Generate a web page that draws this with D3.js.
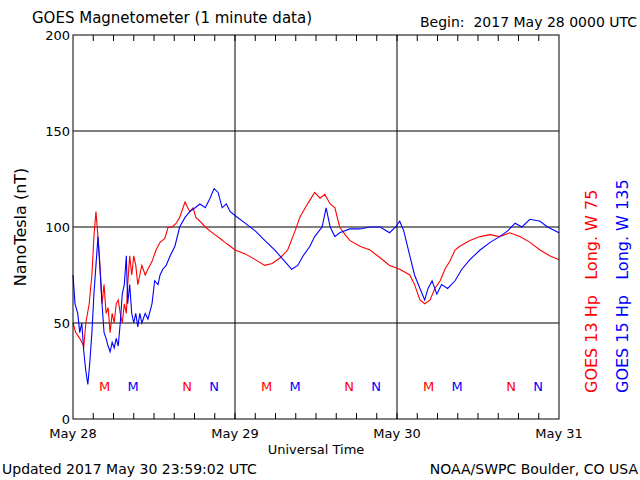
<!DOCTYPE html><html><head><meta charset="utf-8"><script src="https://cdn.jsdelivr.net/npm/d3@7"></script>
<style>body{margin:0;background:#fff}text{font-family:"DejaVu Sans",sans-serif;white-space:pre}</style></head><body><svg id="c" width="640" height="480"></svg><script>
const dayLabels=["May 28","May 29","May 30","May 31"];
const yTicks=[0,50,100,150,200];
const redHours=[0,0.4,1.0,1.6,1.9,2.4,2.8,3.1,3.4,3.7,4.0,4.3,4.6,4.9,5.2,5.5,5.8,6.1,6.4,6.7,7.0,7.3,7.6,7.9,8.1,8.4,8.7,9.0,9.3,9.6,9.9,10.2,10.7,11.1,11.7,12.3,12.9,13.6,14.1,14.7,15.3,15.8,16.3,16.6,17.0,17.3,17.8,18.2,18.8,19.6,20.3,21.0,21.8,22.5,23.3,24.0,25.5,27.0,28.4,29.5,30.7,31.8,32.9,33.6,34.4,35.1,35.8,36.6,37.3,38.1,38.8,39.5,40.3,41.0,42.5,44.0,45.5,46.9,48.4,49.9,50.6,51.4,52.1,52.9,53.6,54.4,55.1,55.8,56.6,57.3,58.8,60.3,61.8,63.2,64.7,66.2,67.7,69.2,70.6,72];
const redValues=[50,45,42,38,50,60,75,95,108,95,80,60,70,55,58,45,55,50,60,62,55,50,60,55,70,85,75,85,80,70,75,80,75,78,82,88,92,94,100,100,102,105,110,113,110,108,110,105,103,100,98,96,94,92,90,88,86,83,80,81,84,88,98,105,110,114,118,115,117,112,110,100,96,93,90,88,84,80,78,75,70,62,60,62,68,72,78,82,88,90,93,95,96,95,97,95,92,88,85,83];
const blueHours=[0,0.3,0.7,1.0,1.3,1.6,1.9,2.2,2.5,2.8,3.1,3.4,3.7,4.0,4.3,4.6,4.9,5.2,5.5,5.8,6.1,6.4,6.7,7.0,7.3,7.6,7.9,8.1,8.4,8.7,9.0,9.3,9.6,9.9,10.2,10.7,11.1,11.7,12.1,12.6,12.9,13.3,13.8,14.4,15.1,15.8,16.6,17.3,18.1,18.8,19.6,20.3,20.9,21.5,22.1,22.7,23.3,24.0,25.5,27.0,28.4,29.9,31.4,32.4,33.3,34.1,35.1,35.8,36.9,37.5,38.1,38.8,39.5,41.0,42.5,44.0,45.5,46.9,47.8,48.4,49.0,49.9,50.6,51.4,52.1,52.6,53.2,53.9,54.6,55.5,56.6,57.6,58.8,60.3,61.8,63.2,64.4,65.5,66.5,67.7,69.2,70.3,72];
const blueValues=[75,60,55,45,50,35,25,18,30,45,65,80,95,78,60,45,42,38,35,40,37,42,38,50,65,70,85,60,70,55,50,55,48,55,50,55,52,60,72,70,75,78,80,85,90,100,105,108,110,112,110,115,120,118,110,112,108,106,102,98,93,88,82,78,80,85,90,95,100,110,100,95,97,99,99,100,100,97,100,103,98,85,75,68,62,68,72,65,70,68,72,78,83,88,92,95,98,102,100,104,103,100,97];
const markLabels=["M","M","N","N"];
const markHours=[4.7,8.9,16.9,20.9];
const markSat=["red","blue","red","blue"];
const L=73,R=559,T=35,B=419;
const svg=d3.select("#c");
const x=d3.scaleLinear().domain([0,72]).range([L,R]);
const y=d3.scaleLinear().domain([0,200]).range([B,T]);
const g=svg.append("g");
g.selectAll(".hg").data([50,100,150]).enter().append("line").attr("x1",L).attr("x2",R).attr("y1",d=>y(d)).attr("y2",d=>y(d)).attr("stroke","#000");
g.selectAll(".vg").data([24,48]).enter().append("line").attr("y1",T).attr("y2",B).attr("x1",d=>x(d)).attr("x2",d=>x(d)).attr("stroke","#000");
const hrs=d3.range(3,72,3);
g.selectAll(".tt").data(hrs).enter().append("line").attr("x1",d=>x(d)).attr("x2",d=>x(d)).attr("y1",T).attr("y2",T+6).attr("stroke","#000");
g.selectAll(".bt").data(hrs).enter().append("line").attr("x1",d=>x(d)).attr("x2",d=>x(d)).attr("y1",B).attr("y2",B-6).attr("stroke","#000");
const line=(hs,vs,c)=>g.append("path").datum(hs.map((h,i)=>[h,vs[i]])).attr("d",d3.line().x(d=>x(d[0])).y(d=>y(d[1]))).attr("fill","none").attr("stroke",c).attr("stroke-width",1.1);
line(redHours,redValues,"#f00");
line(blueHours,blueValues,"#00f");
const ms=[];[0,24,48].forEach(o=>markHours.forEach((h,i)=>ms.push({h:h+o,t:markLabels[i],c:markSat[i]=="red"?"#f00":"#00f"})));
g.selectAll(".mk").data(ms).enter().append("text").attr("x",d=>x(d.h)).attr("y",391).attr("text-anchor","middle").attr("font-size",13).attr("fill",d=>d.c).text(d=>d.t);
g.append("rect").attr("x",L).attr("y",T).attr("width",R-L).attr("height",B-T).attr("fill","none").attr("stroke","#000");
g.selectAll(".yl").data(yTicks).enter().append("text").attr("x",L-3).attr("y",d=>y(d)+5).attr("text-anchor","end").attr("font-size",13).text(d=>d);
g.selectAll(".xl").data(dayLabels).enter().append("text").attr("x",(d,i)=>x(i*24)).attr("y",438).attr("text-anchor","middle").attr("font-size",13).text(d=>d);
svg.append("text").attr("x",316).attr("y",454).attr("text-anchor","middle").attr("font-size",13).text("Universal Time");
svg.append("text").attr("transform","translate(26,227) rotate(-90)").attr("text-anchor","middle").attr("font-size",16).text("NanoTesla (nT)");
svg.append("text").attr("x",32).attr("y",23).attr("font-size",15).text("GOES Magnetometer (1 minute data)");
svg.append("text").attr("x",637).attr("y",27).attr("text-anchor","end").attr("font-size",14).text("Begin:  2017 May 28 0000 UTC");
svg.append("text").attr("x",2).attr("y",474).attr("font-size",14).text("Updated 2017 May 30 23:59:02 UTC");
svg.append("text").attr("x",638).attr("y",474).attr("text-anchor","end").attr("font-size",14).text("NOAA/SWPC Boulder, CO USA");
svg.append("text").attr("transform","translate(597,393) rotate(-90)").attr("font-size",16).attr("fill","#f00").text("GOES 13 Hp   Long. W 75");
svg.append("text").attr("transform","translate(628,393) rotate(-90)").attr("font-size",16).attr("fill","#00f").text("GOES 15 Hp   Long. W 135");
</script></body></html>
